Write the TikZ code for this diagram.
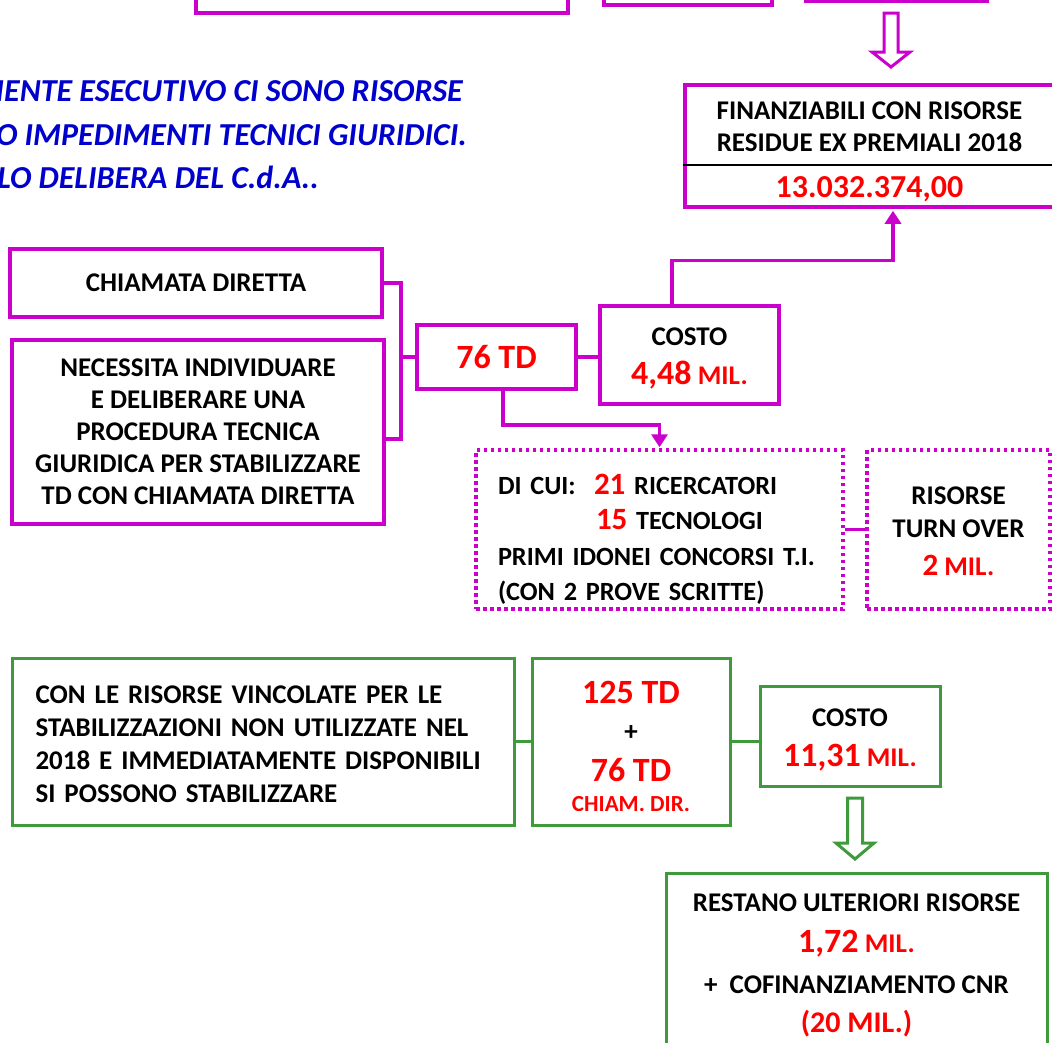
\documentclass[tikz,border=0pt]{standalone}
\usepackage{fontspec}
\setmainfont{Carlito}
\usetikzlibrary{arrows.meta}
\definecolor{mag}{RGB}{204,0,204}
\definecolor{grn}{RGB}{62,154,58}
\definecolor{rd}{RGB}{255,0,0}
\definecolor{blu}{RGB}{0,0,204}
\newcommand\fs[2]{\fontsize{#1}{#2}\selectfont}
\newcommand\Rb[2]{{\color{rd}\fs{#1}{#1}#2}}
\newcommand\Rs[1]{{\color{rd}#1}}
\newcommand\St[1]{\rule{0pt}{#1pt}}
\tikzset{
  mbox/.style={draw=mag, line width=3.5pt, inner sep=0pt, align=center, fill=white, font=\bfseries\fs{27}{32}},
  dbox/.style={mbox, dash pattern=on 3.5pt off 3.5pt},
  gbox/.style={draw=grn, line width=3pt, inner sep=0pt, align=center, fill=white, font=\bfseries\fs{27}{33}},
  mline/.style={draw=mag, line width=3.5pt},
  gline/.style={draw=grn, line width=3pt},
  marr/.style={mline, -{Triangle[width=16pt,length=13pt]}},
  bluetext/.style={text=blu, font=\bfseries\itshape\fs{32}{32}, inner sep=0pt},
  hollow/.style={line width=3pt, fill=white, line join=miter},
}
\begin{document}
\begin{tikzpicture}[x=1pt,y=1pt]
\useasboundingbox (0,0) rectangle (1052,-1042);
\clip (0,0) rectangle (1052,-1042);
\fill[white] (0,0) rectangle (1052,-1042);

% boxes cut by the top edge
\node[mbox, minimum width=372, minimum height=43] (top1) at (382,8.5) {};
\node[mbox, minimum width=168, minimum height=35] (top2) at (688,12.5) {};
\node[mbox, minimum width=181, minimum height=31] (top3) at (896.5,14.5) {};

% hollow magenta arrow
\draw[hollow, draw=mag] (884,-13) -- (898,-13) -- (898,-52) -- (910,-52) -- (891,-67) -- (872,-52) -- (884,-52) -- cycle;

% blue text
\node[bluetext, anchor=base east] (b1) at (463,-101) {MENTE ESECUTIVO CI SONO RISORSE};
\node[bluetext, anchor=base east] (b2) at (467,-145) {O IMPEDIMENTI TECNICI GIURIDICI.};
\node[bluetext, anchor=base east] (b3) at (319,-188) {LO DELIBERA DEL C.d.A..};

% finanziabili
\node[mbox, minimum width=369, minimum height=122] (finanz) at (869.5,-146)
  {\St{29.5}FINANZIABILI CON RISORSE\\RESIDUE EX PREMIALI 2018\\[14pt]\Rb{32}{13.032.374,00}};
\draw[black, line width=2pt] (finanz.west |- 0,-165) -- (finanz.east |- 0,-165);

% magenta group
\node[mbox, minimum width=372, minimum height=68] (chiam) at (196,-283) {CHIAMATA DIRETTA};
\node[mbox, minimum width=372, minimum height=184] (necess) at (198,-432)
  {NECESSITA INDIVIDUARE\\E DELIBERARE UNA\\PROCEDURA TECNICA\\GIURIDICA PER STABILIZZARE\\TD CON CHIAMATA DIRETTA};
\node[mbox, minimum width=159, minimum height=64] (td) at (496.5,-357) {\Rb{34}{76 TD}};
\node[mbox, minimum width=179, minimum height=98, font=\bfseries\fs{27}{39.5}] (costo) at (689.5,-355)
  {\St{25}COSTO\\\Rb{34}{4,48} \Rs{MIL.}};
\node[dbox, minimum width=367, minimum height=159, text width=357pt, align=left, font=\bfseries\fs{26.3}{35.5}] (dicui) at (659.5,-529.5)
  {\St{40}\hspace*{17pt}\makebox[96pt][l]{DI CUI:}\Rb{31}{21} RICERCATORI\\
   \hspace*{115pt}\Rb{31}{15} TECNOLOGI\\
   \hspace*{17pt}PRIMI IDONEI CONCORSI T.I.\\
   \hspace*{17pt}(CON 2 PROVE SCRITTE)};
\node[dbox, minimum width=183, minimum height=159, font=\bfseries\fs{27}{33}] (turnover) at (958.5,-529.5)
  {\St{22}RISORSE\\TURN OVER\\[5pt]\Rb{31}{2} \Rs{MIL.}};

\coordinate (brk) at (401,0);
\draw[mline] (chiam.east) -- (chiam.east -| brk) -- ([yshift=-7pt]necess.east -| brk) -- ([yshift=-7pt]necess.east);
\draw[mline] (td.west) -- (td.west -| brk);
\draw[mline] (td.east) -- (td.east -| costo.west);
\draw[marr] ([xshift=-17.5pt]costo.north) -- ++(0,44) -| ([xshift=23.5pt,yshift=-2pt]finanz.south);
\draw[marr] ([xshift=6.5pt]td.south) -- ++(0,-34) -| ([yshift=1pt]dicui.north);
\draw[mline] (dicui.east) -- (turnover.west);

% green group
\node[gbox, minimum width=502, minimum height=167, text width=455pt, align=left] (gleft) at (263,-741.5)
  {\St{24}\makebox[455pt][s]{CON LE RISORSE VINCOLATE PER LE}\\
   \makebox[455pt][s]{STABILIZZAZIONI NON UTILIZZATE NEL}\\
   \makebox[455pt][s]{2018 E IMMEDIATAMENTE DISPONIBILI}\\
   SI POSSONO STABILIZZARE};
\node[gbox, minimum width=198, minimum height=167, font=\bfseries\fs{27}{37}] (g125) at (631,-741.5)
  {\St{32}\Rb{34}{125 TD}\\+\\[4pt]\Rb{34}{76 TD}\\[-7.5pt]{\color{rd}\fs{23}{23}CHIAM. DIR.}};
\node[gbox, minimum width=180, minimum height=100, font=\bfseries\fs{27}{40.5}] (gcosto) at (850,-736)
  {\St{26}COSTO\\\Rb{34}{11,31} \Rs{MIL.}};
\node[gbox, minimum width=381, minimum height=184, anchor=north, font=\bfseries\fs{27}{41}] (restano) at (856.5,-872)
  {RESTANO ULTERIORI RISORSE\\\Rb{34}{1,72} \Rs{MIL.}\\+\ \ COFINANZIAMENTO CNR\\[-2pt]\Rb{30}{(20 MIL.)}};

\draw[gline] (gleft.east) -- (g125.west);
\draw[gline] (g125.east) -- (g125.east -| gcosto.west);

% hollow green arrow
\draw[hollow, draw=grn] (847.5,-798) -- (862.5,-798) -- (862.5,-843) -- (874,-843) -- (855,-859) -- (836,-843) -- (847.5,-843) -- cycle;
\end{tikzpicture}
\end{document}
